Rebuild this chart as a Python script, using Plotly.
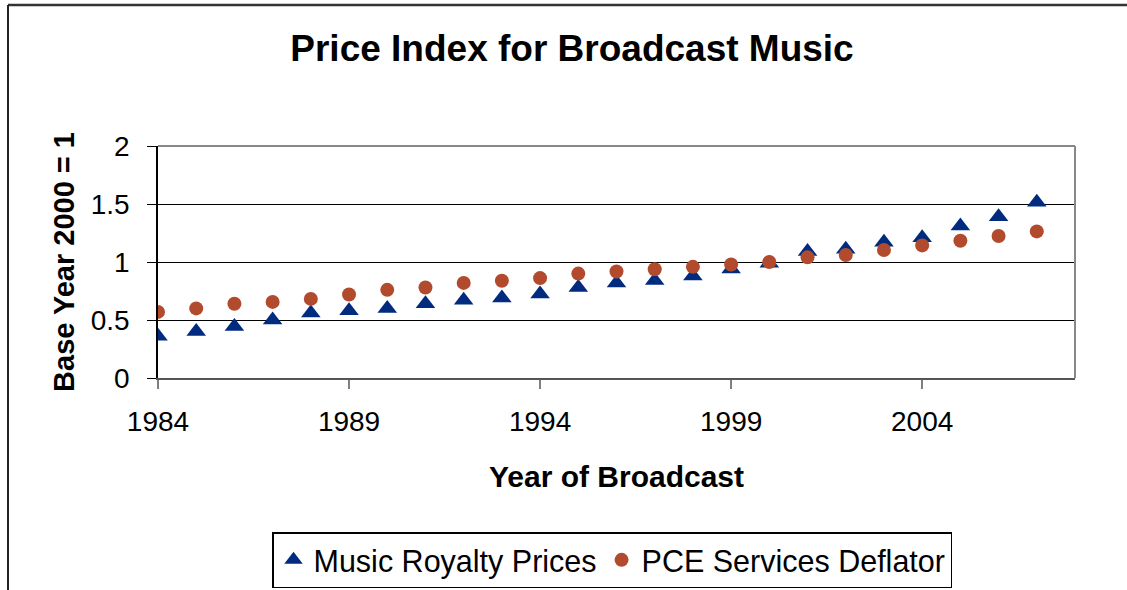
import plotly.graph_objects as go

# ---- data ----
years = list(range(1984, 2008))
music_royalty_prices = [0.36, 0.40, 0.445, 0.50, 0.56, 0.58, 0.60, 0.64, 0.67, 0.69,
                        0.725, 0.78, 0.82, 0.84, 0.88, 0.94, 0.99, 1.09, 1.11, 1.17,
                        1.21, 1.31, 1.39, 1.515]
pce_services_deflator = [0.57, 0.60, 0.64, 0.656, 0.682, 0.72, 0.76, 0.78, 0.82, 0.838,
                         0.861, 0.90, 0.918, 0.938, 0.958, 0.978, 1.0, 1.04, 1.06, 1.103,
                         1.143, 1.183, 1.224, 1.264]
x_ticks = [1984, 1989, 1994, 1999, 2004]
y_ticks = [0, 0.5, 1, 1.5, 2]
y_tick_text = ["0", "0.5", "1", "1.5", "2"]

# ---- layout geometry (pixels) ----
W, H = 1127, 590
L, R, T, B = 158, 1075, 146, 378
FONT = "Arial, Liberation Sans, sans-serif"


def px_x(p):
    return (p - L) / (R - L)


def px_y(p):
    return (B - p) / (B - T)


fig = go.Figure()
fig.add_trace(go.Scatter(
    x=years, y=music_royalty_prices, mode="markers", name="Music Royalty Prices",
    marker=dict(symbol="triangle-up", size=17, color="#002B7F", line=dict(width=0)),
))
fig.add_trace(go.Scatter(
    x=years, y=pce_services_deflator, mode="markers", name="PCE Services Deflator",
    marker=dict(symbol="circle", size=14, color="#B24B2E", line=dict(width=0)),
))

fig.update_layout(
    width=W, height=H,
    margin=dict(l=L, r=W - R, t=T, b=H - B, pad=0, autoexpand=False),
    paper_bgcolor="white", plot_bgcolor="white",
    font=dict(family=FONT, color="black"),
    title=dict(text="<b>Price Index for Broadcast Music</b>",
               font=dict(size=37, family=FONT, color="black"),
               x=572 / W, xanchor="center", xref="container",
               y=1 - 48 / H, yanchor="middle", yref="container"),
    showlegend=True,
    legend=dict(orientation="h", x=612 / W, xanchor="center", xref="container",
                y=1 - 532 / H, yanchor="top", yref="container",
                bordercolor="black", borderwidth=1.5, bgcolor="white",
                font=dict(size=30.5, family=FONT, color="black"),
                itemwidth=30, tracegroupgap=0),
    xaxis=dict(range=[1984, 2008], tickvals=x_ticks, ticktext=[str(v) for v in x_ticks],
               showgrid=False, zeroline=False, automargin=False,
               showline=True, linecolor="#555555", linewidth=2,
               ticks="outside", ticklen=9, tickcolor="#808080", tickwidth=1.5,
               tickfont=dict(size=28, family=FONT, color="black"),
               ticklabelstandoff=8,
               title=dict(text="<b>Year of Broadcast</b>",
                          font=dict(size=30, family=FONT, color="black"),
                          standoff=30)),
    yaxis=dict(range=[0, 2], tickvals=y_ticks, ticktext=y_tick_text,
               showgrid=True, gridcolor="black", gridwidth=1,
               zeroline=False, automargin=False,
               showline=True, linecolor="black", linewidth=1.5,
               ticks="outside", ticklen=9, tickcolor="black", tickwidth=1,
               tickfont=dict(size=28, family=FONT, color="black"),
               ticklabelstandoff=12,
               title=dict(text="<b>Base Year 2000 = 1</b>",
                          font=dict(size=29, family=FONT, color="black"),
                          standoff=8)),
)

# plot-area border (top and right), grey like the reference
fig.add_shape(type="line", xref="paper", yref="paper", x0=0, x1=1, y0=1, y1=1,
              line=dict(color="#888888", width=2), layer="above")
fig.add_shape(type="line", xref="paper", yref="paper", x0=1, x1=1, y0=0, y1=1,
              line=dict(color="#888888", width=2), layer="above")

# outer chart frame (top and left visible; the rest is cropped in the reference)
fig.add_shape(type="line", xref="paper", yref="paper",
              x0=px_x(8), x1=px_x(W + 10), y0=px_y(5), y1=px_y(5),
              line=dict(color="#333333", width=2.5), layer="above")
fig.add_shape(type="line", xref="paper", yref="paper",
              x0=px_x(8), x1=px_x(8), y0=px_y(5), y1=px_y(H + 10),
              line=dict(color="#222222", width=2), layer="above")

fig.write_html("out.html", config={"displayModeBar": False},
               post_script="document.body.style.margin='0px';document.body.style.overflow='hidden';")
